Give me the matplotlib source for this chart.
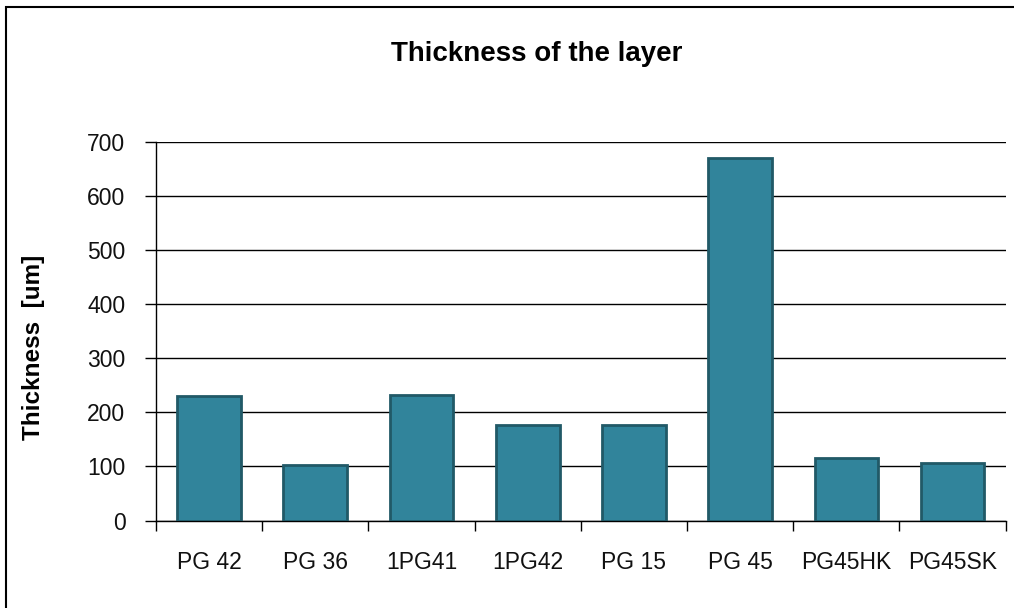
import matplotlib
matplotlib.use("Agg")
from matplotlib import pyplot as plt
from matplotlib.patches import Rectangle
import numpy as np

samples = ["PG 42", "PG 36", "1PG41", "1PG42", "PG 15", "PG 45", "PG45HK", "PG45SK"]
thickness = [230, 102, 233, 176, 176, 671, 115, 107]
y_ticks = [0, 100, 200, 300, 400, 500, 600, 700]

plt.rcParams["font.family"] = ["Liberation Sans", "DejaVu Sans"]

fig = plt.figure(figsize=(10.14, 6.08), dpi=100)
ax = fig.add_axes([156 / 1014, 1 - 520.5 / 608, (1005.7 - 156) / 1014, (520.5 - 142) / 608])

x = np.arange(len(samples))
ax.bar(x, thickness, width=0.6, color="#31849b", edgecolor="#215967",
       linewidth=2, zorder=3)

ax.set_xlim(-0.5, len(samples) - 0.5)
ax.set_ylim(0, 700)
ax.set_yticks(y_ticks)
ax.yaxis.grid(True, color="black", linewidth=1)
ax.set_axisbelow(True)

# category labels sit at bar centres, tick marks at the boundaries
ax.set_xticks(x)
ax.set_xticklabels(samples, fontsize=16.5, color="#111111")
ax.set_xticks(np.arange(-0.5, len(samples)), minor=True)
ax.tick_params(axis="x", which="major", length=0, pad=22)
ax.tick_params(axis="x", which="minor", length=7, width=1, direction="out")
ax.tick_params(axis="y", length=8, width=1, pad=14, labelsize=16.5,
               labelcolor="#111111")

for side in ("top", "right"):
    ax.spines[side].set_visible(False)
for side in ("left", "bottom"):
    ax.spines[side].set_color("black")
    ax.spines[side].set_linewidth(1)

fig.text(537 / 1014, 1 - 54 / 608, "Thickness of the layer", ha="center",
         va="center", fontsize=20, fontweight="bold")
fig.text(34 / 1014, 1 - 347 / 608, "Thickness  [um]", ha="center",
         va="center", rotation=90, fontsize=17.5, fontweight="bold")

# chart frame
fig.patches.append(Rectangle((5.5 / 1014, -0.1), 1.2, 1 - 6.5 / 608 + 0.1,
                             transform=fig.transFigure, fill=False,
                             edgecolor="black", linewidth=1.5))

fig.savefig("out.png", dpi=100)
